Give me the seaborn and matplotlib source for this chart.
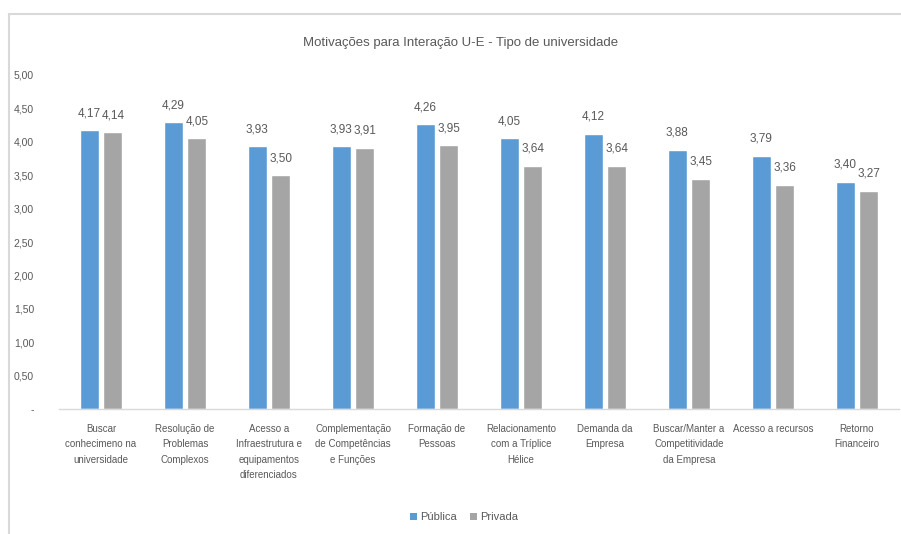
import matplotlib
matplotlib.use("Agg")
import matplotlib.pyplot as plt
from matplotlib.lines import Line2D
from matplotlib.patches import Patch
import seaborn as sns
import pandas as pd

categorias = [
    "Buscar\nconhecimeno na\nuniversidade",
    "Resolução de\nProblemas\nComplexos",
    "Acesso a\nInfraestrutura e\nequipamentos\ndiferenciados",
    "Complementação\nde Competências\ne Funções",
    "Formação de\nPessoas",
    "Relacionamento\ncom a Tríplice\nHélice",
    "Demanda da\nEmpresa",
    "Buscar/Manter a\nCompetitividade\nda Empresa",
    "Acesso a recursos",
    "Retorno\nFinanceiro",
]
publica = [4.17, 4.29, 3.93, 3.93, 4.26, 4.05, 4.12, 3.88, 3.79, 3.40]
privada = [4.14, 4.05, 3.50, 3.91, 3.95, 3.64, 3.64, 3.45, 3.36, 3.27]
series = ["Pública", "Privada"]
cores = ["#5B9BD5", "#A5A5A5"]
yticks = [0, 0.5, 1.0, 1.5, 2.0, 2.5, 3.0, 3.5, 4.0, 4.5, 5.0]
titulo = "Motivações para Interação U-E - Tipo de universidade"

df = pd.DataFrame({
    "categoria": categorias * 2,
    "valor": publica + privada,
    "tipo": [series[0]] * len(categorias) + [series[1]] * len(categorias),
})

sns.set_theme(style="white")
plt.rcParams["font.family"] = ["Liberation Sans", "DejaVu Sans"]
texto = "#595959"

fig = plt.figure(figsize=(9.01, 5.34), dpi=100)
W, H = 901, 534
ax = fig.add_axes([59 / W, (H - 409) / H, 840 / W, (409 - 75) / H])

sns.barplot(data=df, x="categoria", y="valor", hue="tipo", palette=cores,
            width=0.56, gap=0.18, ax=ax, legend=False, saturation=1)

ax.set_ylim(0, 5)
ax.set_xlim(-0.5, len(categorias) - 0.5)
ax.set_yticks(yticks)
ax.set_yticklabels(["-"] + [f"{v:.2f}".replace(".", ",") for v in yticks[1:]],
                   fontsize=7.5, color=texto)
ax.tick_params(axis="y", length=0, pad=18)
ax.tick_params(axis="x", length=0, pad=11, labelsize=7, labelcolor=texto)
ax.set_xlabel("")
ax.set_ylabel("")
for lbl in ax.get_xticklabels():
    lbl.set_linespacing(1.65)
    lbl.set_verticalalignment("top")
for s in ["top", "right", "left"]:
    ax.spines[s].set_visible(False)
ax.spines["bottom"].set_color("#D9D9D9")
ax.spines["bottom"].set_linewidth(1)

for cont in ax.containers:
    ax.bar_label(cont, labels=[f"{v:.2f}".replace(".", ",") for v in cont.datavalues],
                 padding=8, fontsize=8.5, color=texto)

fig.text(461 / W, 1 - 43 / H, titulo, ha="center", va="center",
         fontsize=9.5, color=texto)

handles = [Patch(facecolor=c, edgecolor="none") for c in cores]
fig.legend(handles, series, loc="center", bbox_to_anchor=(464 / W, 1 - 517 / H),
           ncol=2, frameon=False, fontsize=8, handlelength=0.6, handleheight=0.6,
           handletextpad=0.3, columnspacing=1.2, labelcolor=texto)

# light frame around the chart area
fig.add_artist(Line2D([9 / W, 1], [1 - 14 / H, 1 - 14 / H], color="#D9D9D9", lw=1.5))
fig.add_artist(Line2D([9 / W, 9 / W], [0, 1 - 14 / H], color="#D9D9D9", lw=1.5))

fig.savefig("out.png", dpi=100)
